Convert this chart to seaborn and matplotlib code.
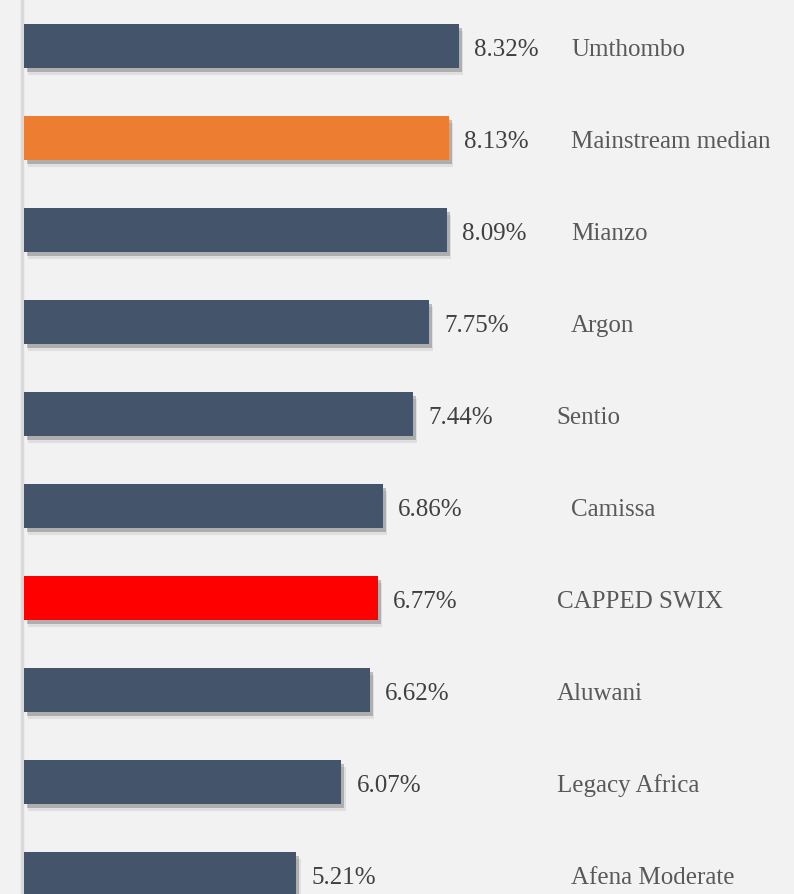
import matplotlib
matplotlib.use("Agg")
import matplotlib.pyplot as plt
import matplotlib.patheffects as pe
import seaborn as sns
import pandas as pd

categories = ["Umthombo", "Mainstream median", "Mianzo", "Argon", "Sentio",
              "Camissa", "CAPPED SWIX", "Aluwani", "Legacy Africa", "Afena Moderate"]
values = [8.32, 8.13, 8.09, 7.75, 7.44, 6.86, 6.77, 6.62, 6.07, 5.21]
value_labels = ["8.32%", "8.13%", "8.09%", "7.75%", "7.44%", "6.86%", "6.77%", "6.62%", "6.07%", "5.21%"]

# styling
colors = ["#44546a", "#ed7d31", "#44546a", "#44546a", "#44546a",
          "#44546a", "#ff0000", "#44546a", "#44546a", "#44546a"]
name_x = [10.46, 10.46, 10.46, 10.46, 10.17, 10.46, 10.19, 10.19, 10.19, 10.46]

df = pd.DataFrame({"name": categories, "value": values})

sns.set_theme(style="white")
plt.rcParams["font.family"] = ["Liberation Serif", "DejaVu Serif"]

fig = plt.figure(figsize=(7.94, 8.95), dpi=100, facecolor="#f2f2f2")
ax = fig.add_axes([0, 0, 1, 1])
ax.set_facecolor("#f2f2f2")

sns.barplot(data=df, y="name", x="value", hue="name", palette=colors,
            orient="h", width=0.48, legend=False, ax=ax, saturation=1,
            linewidth=0, edgecolor="none")

for p in ax.patches:
    p.set_linewidth(0)
    p.set_path_effects([
        pe.SimplePatchShadow(offset=(3, -5), shadow_rgbFace="#000000", alpha=0.08),
        pe.SimplePatchShadow(offset=(2, -3), shadow_rgbFace="#000000", alpha=0.22),
        pe.Normal()])
    p.set_zorder(3)

px = 52.3
ax.set_xlim(-24 / px, (794 - 24) / px)
ax.set_ylim((895 - 47) / 92, -47 / 92)

dy = 3 / 92
for i, (v, lab) in enumerate(zip(values, value_labels)):
    ax.text(v + 15 / px, i + dy, lab, va="center", ha="left", fontsize=18, color="#404040", zorder=4)
    ax.text(name_x[i], i + dy, categories[i], va="center", ha="left", fontsize=18, color="#595959", zorder=4)

for s in ["top", "right", "bottom"]:
    ax.spines[s].set_visible(False)
ax.spines["left"].set_position(("data", -0.03))
ax.spines["left"].set_color("#d9d9d9")
ax.spines["left"].set_linewidth(2.5)
ax.set_xticks([])
ax.set_yticks([])
ax.set_xlabel("")
ax.set_ylabel("")

fig.savefig("out.png", dpi=100, facecolor="#f2f2f2")
